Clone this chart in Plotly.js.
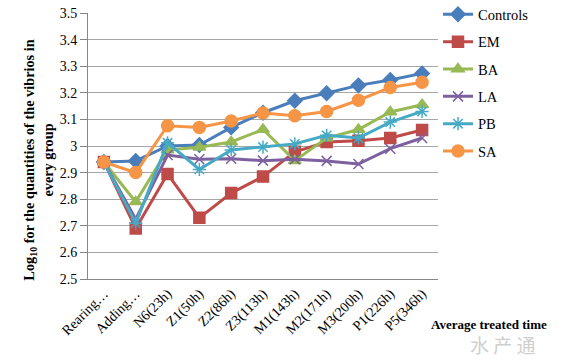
<!DOCTYPE html>
<html><head><meta charset="utf-8">
<script src="https://cdn.plot.ly/plotly-3.0.1.min.js"></script>
<style>html,body{margin:0;padding:0;background:#fff;}#chart{width:568px;height:363px;}</style>
</head><body><div id="chart"></div>
<script>
const categories = ["Rearing…","Adding…","N6(23h)","Z1(50h)","Z2(86h)","Z3(113h)","M1(143h)","M2(171h)","M3(200h)","P1(226h)","P5(346h)"];
const controls = [2.94, 2.944, 3.0, 3.004, 3.07, 3.125, 3.17, 3.198, 3.228, 3.248, 3.273];
const em       = [2.94, 2.69, 2.895, 2.73, 2.823, 2.885, 2.978, 3.015, 3.02, 3.03, 3.06];
const ba       = [2.94, 2.79, 2.985, 2.995, 3.015, 3.062, 2.945, 3.03, 3.062, 3.128, 3.155];
const la       = [2.94, 2.725, 2.966, 2.95, 2.952, 2.945, 2.95, 2.944, 2.932, 2.99, 3.03];
const pb       = [2.94, 2.71, 3.012, 2.912, 2.985, 2.996, 3.008, 3.04, 3.03, 3.09, 3.13];
const sa       = [2.94, 2.9, 3.076, 3.07, 3.094, 3.124, 3.114, 3.13, 3.172, 3.22, 3.24];
const yTicks   = [2.5, 2.6, 2.7, 2.8, 2.9, 3.0, 3.1, 3.2, 3.3, 3.4, 3.5];

const serif = "Liberation Serif";
function tr(name, y, color, symbol, size) {
  return {
    type: "scatter", mode: "lines+markers", name: name, x: categories, y: y, legendgroup: name,
    line: {color: color, width: 3},
    marker: {symbol: symbol, size: size, color: color, line: {color: color, width: 1.5}}
  };
}
const data = [
  tr("Controls", controls, "#4A7EBB", "diamond", 11),
  tr("EM", em, "#BE4B48", "square", 11),
  tr("BA", ba, "#98B954", "triangle-up", 11),
  tr("LA", la, "#7D60A0", "x-thin", 10),
  tr("PB", pb, "#46AAC5", "asterisk", 11),
  tr("SA", sa, "#F69546", "circle", 12)
];
const layout = {
  width: 568, height: 363,
  margin: {l: 88, r: 130, t: 13, b: 84, autoexpand: false},
  paper_bgcolor: "#fff", plot_bgcolor: "#fff",
  font: {family: serif, size: 13, color: "#000"},
  showlegend: true,
  legend: {x: 1.0, xanchor: "left", y: 1.055, yanchor: "top", font: {family: serif, size: 14.5, color: "#000"},
           tracegroupgap: 5.5, bgcolor: "rgba(0,0,0,0)"},
  xaxis: {
    type: "category", range: [-0.5, 10.5], autorange: false, tickangle: -45, showgrid: false, showline: true,
    linecolor: "#868686", linewidth: 1, ticks: "", tickfont: {family: serif, size: 14, color: "#000"},
    zeroline: false, automargin: false
  },
  yaxis: {
    range: [2.5, 3.5], tickvals: yTicks, showgrid: true, gridcolor: "#A6A6A6", gridwidth: 1,
    showline: true, linecolor: "#868686", linewidth: 1, ticks: "outside", ticklen: 7, tickcolor: "#868686",
    tickfont: {family: serif, size: 14, color: "#000"}, zeroline: false, automargin: false
  },
  annotations: [
    {text: "<b>Log<sub>10</sub> for the quantities of the vibrios in<br>every group</b>", textangle: -90,
     xref: "paper", yref: "paper", x: -0.14, y: 0.445, xanchor: "center", yanchor: "middle", showarrow: false,
     font: {family: serif, size: 14.3, color: "#000"}},
    {text: "<b>Average treated time</b>", xref: "paper", yref: "paper", x: 0.975, y: -0.17,
     xanchor: "left", yanchor: "middle", showarrow: false, font: {family: serif, size: 13, color: "#000"}},
    {text: "水 产 通", xref: "paper", yref: "paper", x: 1.085, y: -0.245, xanchor: "left", yanchor: "middle",
     showarrow: false, font: {family: "Noto Sans CJK SC", size: 19, color: "#cfcfcf"}}
  ]
};
Plotly.newPlot("chart", data, layout, {displayModeBar: false, staticPlot: true});
</script></body></html>
